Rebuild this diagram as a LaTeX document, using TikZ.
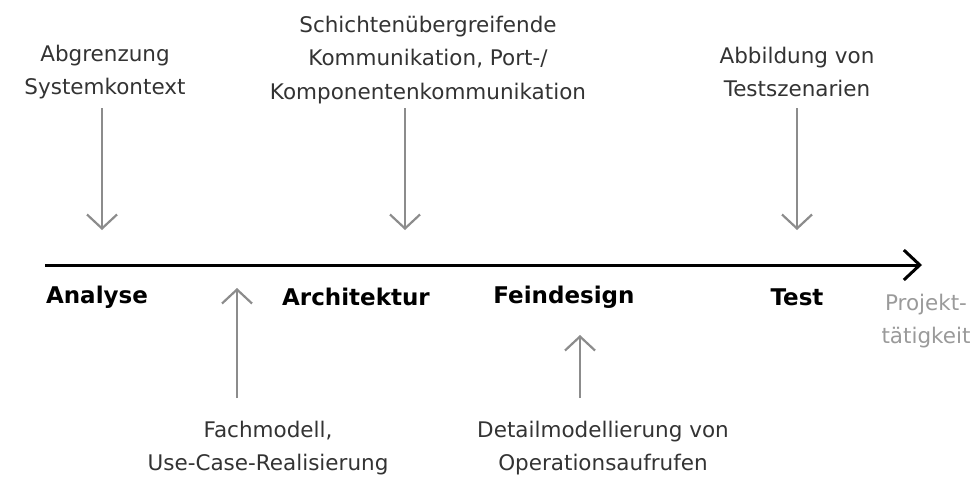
\documentclass[tikz,border=0pt]{standalone}
\usepackage{fontspec}
\setmainfont{DejaVu Sans}
\usetikzlibrary{arrows.meta}
\definecolor{txt}{HTML}{333333}
\definecolor{arr}{HTML}{8C8C8C}
\definecolor{soft}{HTML}{9A9A9A}
\begin{document}
\begin{tikzpicture}[x=1pt,y=-1pt,
  note/.style={align=center,text=txt,inner sep=0pt,font=\fontsize{21.5}{33.5}\selectfont},
  phase/.style={inner sep=0pt,font=\fontsize{23}{33}\selectfont\bfseries},
  hint/.style={draw=arr,line width=2.2pt,-{Straight Barb[length=14pt,width=30pt]}},
  axis/.style={draw=black,line width=3pt,-{Straight Barb[length=16pt,width=30pt]}}]
\useasboundingbox (0,0) rectangle (979,477);
% time axis
\coordinate (a0) at (45,265);
\coordinate (a1) at (922,265);
\draw[axis] (a0) -- (a1);
% phases
\node[phase] (ana) at (97,297) {Analyse};
\node[phase] (arc) at (356,297) {Architektur};
\node[phase] (fei) at (564,297) {Feindesign};
\node[phase] (tst) at (797,297) {Test};
\node[note,text=soft] (prj) at (926,321) {Projekt-\\tätigkeit};
% notes above the axis
\node[note] (n1) at (105,72) {Abgrenzung\\Systemkontext};
\node[note] (n2) at (428,60) {Schichtenübergreifende\\Kommunikation, Port-/\\Komponentenkommunikation};
\node[note] (n3) at (797,72) {Abbildung von\\Testszenarien};
% notes below the axis
\node[note] (n4) at (268,448) {Fachmodell,\\Use-Case-Realisierung};
\node[note] (n5) at (603,448) {Detailmodellierung von\\Operationsaufrufen};
% arrow ends
\coordinate (d1a) at (102,108); \coordinate (d1b) at (102,230);
\coordinate (d2a) at (405,108); \coordinate (d2b) at (405,230);
\coordinate (d3a) at (797,108); \coordinate (d3b) at (797,230);
\coordinate (u1a) at (237,398); \coordinate (u1b) at (237,288);
\coordinate (u2a) at (580,398); \coordinate (u2b) at (580,335);
\draw[hint] (d1a) -- (d1b);
\draw[hint] (d2a) -- (d2b);
\draw[hint] (d3a) -- (d3b);
\draw[hint] (u1a) -- (u1b);
\draw[hint] (u2a) -- (u2b);
\end{tikzpicture}
\end{document}
